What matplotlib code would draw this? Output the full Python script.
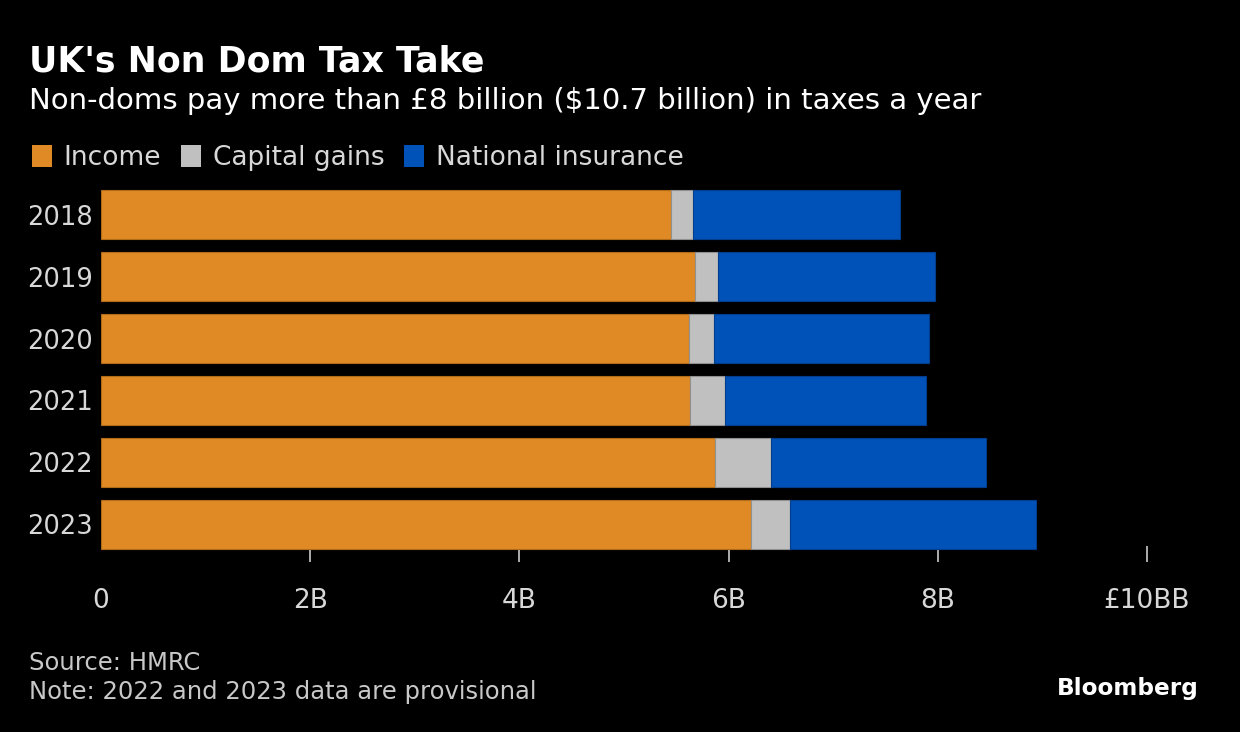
import matplotlib
matplotlib.use("Agg")
import matplotlib.pyplot as plt
from matplotlib.patches import Patch

years = ["2018", "2019", "2020", "2021", "2022", "2023"]
income = [5.45, 5.68, 5.62, 5.63, 5.87, 6.21]
capital_gains = [0.21, 0.22, 0.24, 0.34, 0.54, 0.38]
national_insurance = [1.98, 2.07, 2.06, 1.92, 2.05, 2.35]
xticks = [0, 2, 4, 6, 8, 10]
xtick_labels = ["0", "2B", "4B", "6B", "8B", "£10BB"]

plt.rcParams["font.family"] = ["DejaVu Sans"]

ORANGE = "#DF8A24"
GRAY = "#C0C0C0"
BLUE = "#0052B8"
TXT = "#D8D8D8"

W, H = 1240, 732
fig = plt.figure(figsize=(W / 100, H / 100), dpi=100, facecolor="black")
ax = fig.add_axes([101 / W, 1 - 562 / H, (1147 - 101) / W, (562 - 177) / H])
ax.set_facecolor("black")

ypos = list(range(len(years)))
bh = 0.79
left2 = [a + b for a, b in zip(income, capital_gains)]
ax.barh(ypos, income, height=bh, color=ORANGE, edgecolor="#B06A18", linewidth=0.8, zorder=3, label="Income")
ax.barh(ypos, capital_gains, left=income, height=bh, color=GRAY, edgecolor="#909090", linewidth=0.8, zorder=3, label="Capital gains")
ax.barh(ypos, national_insurance, left=left2, height=bh, color=BLUE, edgecolor="#003E8C", linewidth=0.8, zorder=3, label="National insurance")

ax.set_xlim(0, 10)
ax.set_ylim(5.605, -0.605)
ax.set_yticks(ypos)
ax.set_yticklabels(years, fontsize=18.5, color=TXT)
ax.set_xticks(xticks)
ax.set_xticklabels(xtick_labels, fontsize=19, color=TXT)
ax.tick_params(axis="y", length=0, pad=6)
ax.tick_params(axis="x", direction="in", length=11.5, width=1.3, color="#BBBBBB", pad=19)
ax.xaxis.get_major_ticks()[0].tick1line.set_visible(False)
for s in ax.spines.values():
    s.set_visible(False)

fig.text(29 / W, 1 - 61 / H, "UK's Non Dom Tax Take", fontsize=25, fontweight="bold", color="white", va="center", ha="left")
fig.text(29 / W, 1 - 101 / H, "Non-doms pay more than £8 billion ($10.7 billion) in taxes a year",
         fontsize=21, color="white", va="center", ha="left")

handles = [Patch(facecolor=ORANGE), Patch(facecolor=GRAY), Patch(facecolor=BLUE)]
fig.legend(handles, ["Income", "Capital gains", "National insurance"], loc="center left",
           bbox_to_anchor=(32 / W, 1 - 158 / H), ncol=3, frameon=False, fontsize=19,
           labelcolor=TXT, handlelength=0.75, handleheight=0.9, handletextpad=0.45,
           columnspacing=0.75, borderaxespad=0, borderpad=0)

fig.text(29 / W, 1 - 663 / H, "Source: HMRC", fontsize=17.5, color="#C8C8C8", va="center", ha="left")
fig.text(29 / W, 1 - 692 / H, "Note: 2022 and 2023 data are provisional", fontsize=17.5, color="#C8C8C8", va="center", ha="left")
fig.text(1199 / W, 1 - 688 / H, "Bloomberg", fontsize=16.7, fontweight="bold", color="white", va="center", ha="right")

fig.savefig("out.png", dpi=100, facecolor="black")
